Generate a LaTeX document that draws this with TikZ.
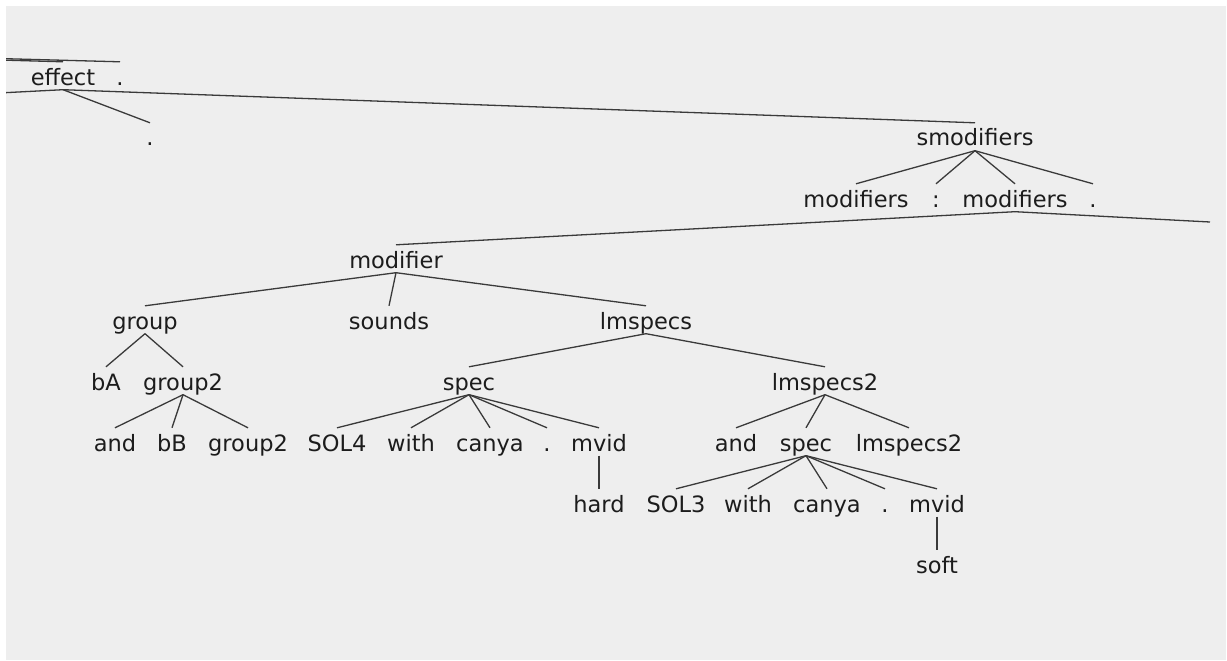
\documentclass[tikz,border=0pt]{standalone}
\usepackage{fontspec}
\setmainfont{DejaVu Sans}
\definecolor{panel}{HTML}{EEEEEE}
\definecolor{ink}{HTML}{1C1C1C}
\definecolor{branch}{HTML}{3A3A3A}
\tikzset{
  tn/.style={inner sep=0pt, anchor=base, text height=23pt, text depth=4.5pt,
             font=\fontsize{22.5pt}{24pt}\selectfont, text=ink},
  br/.style={draw=branch, line width=1.3pt}
}
\begin{document}
\begin{tikzpicture}[x=1pt, y=-1pt]
\useasboundingbox (0,0) rectangle (1227,661);
\fill[white] (0,0) rectangle (1227,661);
\fill[panel] (6,6) rectangle (1226,660);
\begin{scope}
\clip (6,6) rectangle (1226,660);
% off-panel ends of the tree
\coordinate (root) at (-1096,29);
\coordinate (leftkid) at (-583,123);
\coordinate (rightkid) at (1210,222);
% row 0
\node[tn] (effect) at (63,85) {effect};
\node[tn] (dotA) at (120,85) {.};
% row 1
\node[tn] (dotB) at (150,146) {.};
\node[tn] (smod) at (975,146) {smodifiers};
% row 2
\node[tn] (modsA) at (856,207) {modifiers};
\node[tn] (colon) at (936,207) {:};
\node[tn] (modsB) at (1015,207) {modifiers};
\node[tn] (dotC) at (1093,207) {.};
% row 3
\node[tn] (modifier) at (396,268) {modifier};
% row 4
\node[tn] (group) at (145,329) {group};
\node[tn] (sounds) at (389,329) {sounds};
\node[tn] (lmspecs) at (646,329) {lmspecs};
% row 5
\node[tn] (bA) at (106,390) {bA};
\node[tn] (groupTwoA) at (183,390) {group2};
\node[tn] (specA) at (469,390) {spec};
\node[tn] (lmspecsTwoA) at (825,390) {lmspecs2};
% row 6
\node[tn] (andA) at (115,451) {and};
\node[tn] (bB) at (172,451) {bB};
\node[tn] (groupTwoB) at (248,451) {group2};
\node[tn] (solFour) at (337,451) {SOL4};
\node[tn] (withA) at (411,451) {with};
\node[tn] (canyaA) at (490,451) {canya};
\node[tn] (dotD) at (547,451) {.};
\node[tn] (mvidA) at (599,451) {mvid};
\node[tn] (andB) at (736,451) {and};
\node[tn] (specB) at (806,451) {spec};
\node[tn] (lmspecsTwoB) at (909,451) {lmspecs2};
% row 7
\node[tn] (hard) at (599,512) {hard};
\node[tn] (solThree) at (676,512) {SOL3};
\node[tn] (withB) at (748,512) {with};
\node[tn] (canyaB) at (827,512) {canya};
\node[tn] (dotE) at (885,512) {.};
\node[tn] (mvidB) at (937,512) {mvid};
% row 8
\node[tn] (soft) at (937,573) {soft};
% branches
\draw[br] (root) -- (effect.north);
\draw[br] (root) -- (dotA.north);
\draw[br] (effect.south) -- (leftkid);
\draw[br] (effect.south) -- (dotB.north);
\draw[br] (effect.south) -- (smod.north);
\foreach \c in {modsA,colon,modsB,dotC} \draw[br] (smod.south) -- (\c.north);
\draw[br] (modsB.south) -- (modifier.north);
\draw[br] (modsB.south) -- (rightkid);
\foreach \c in {group,sounds,lmspecs} \draw[br] (modifier.south) -- (\c.north);
\foreach \c in {bA,groupTwoA} \draw[br] (group.south) -- (\c.north);
\foreach \c in {andA,bB,groupTwoB} \draw[br] (groupTwoA.south) -- (\c.north);
\foreach \c in {specA,lmspecsTwoA} \draw[br] (lmspecs.south) -- (\c.north);
\foreach \c in {solFour,withA,canyaA,dotD,mvidA} \draw[br] (specA.south) -- (\c.north);
\draw[br] (mvidA.south) -- (hard.north);
\foreach \c in {andB,specB,lmspecsTwoB} \draw[br] (lmspecsTwoA.south) -- (\c.north);
\foreach \c in {solThree,withB,canyaB,dotE,mvidB} \draw[br] (specB.south) -- (\c.north);
\draw[br] (mvidB.south) -- (soft.north);
\end{scope}
\end{tikzpicture}
\end{document}
